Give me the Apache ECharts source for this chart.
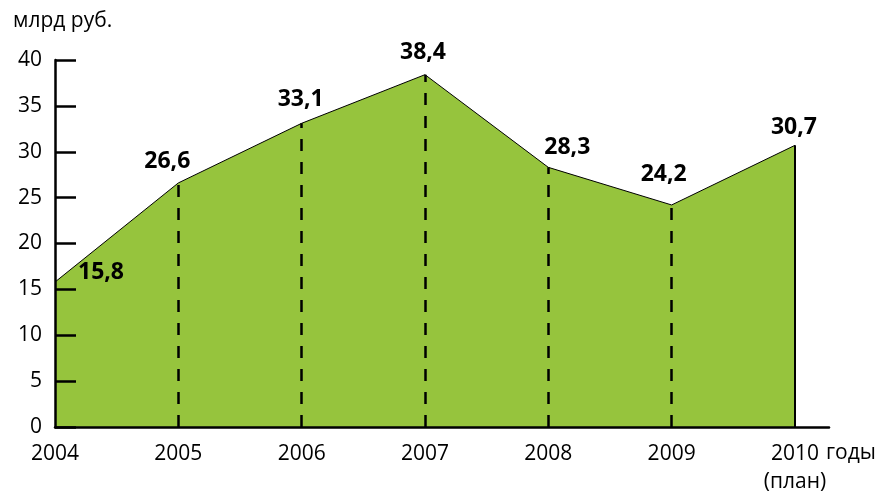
<!DOCTYPE html>
<html><head><meta charset="utf-8">
<script src="https://cdn.jsdelivr.net/npm/echarts@6/dist/echarts.min.js"></script>
<style>html,body{margin:0;padding:0;background:#fff}#c{width:877px;height:493px}</style>
</head><body><div id="c"></div>
<script>
const years = [2004, 2005, 2006, 2007, 2008, 2009, 2010];
const values = [15.8, 26.6, 33.1, 38.4, 28.3, 24.2, 30.7];
const valueLabels = ['15,8', '26,6', '33,1', '38,4', '28,3', '24,2', '30,7'];
const yTicks = [0, 5, 10, 15, 20, 25, 30, 35, 40];
const yAxisTitle = 'млрд руб.';
const xAxisTitle = 'годы';
const planNote = '(план)';

const FONT = '"Open Sans", "Noto Sans", sans-serif';
const labelOffsets = [[46, -10], [-11, -21], [-1, -24], [-2, -22], [19, -20], [-8, -31], [-1, -18]];

const chart = echarts.init(document.getElementById('c'));
const data = years.map((y, i) => ({
  value: [y, values[i]],
  label: {
    show: true,
    position: 'inside',
    offset: labelOffsets[i],
    formatter: valueLabels[i],
    fontWeight: 'bold',
    fontSize: 23,
    fontFamily: FONT,
    color: '#000'
  }
}));
const dashLines = years.slice(1, -1).map((y, i) => [
  { coord: [y, 0] }, { coord: [y, values[i + 1]] }
]);
const lastIdx = years.length - 1;
const solidLine = [
  { coord: [years[lastIdx], 0], lineStyle: { type: 'solid', width: 2 } },
  { coord: [years[lastIdx], values[lastIdx]] }
];

chart.setOption({
  animation: false,
  title: {
    text: yAxisTitle, left: 8, top: 6,
    textStyle: { fontFamily: FONT, fontSize: 21, fontWeight: 'normal', color: '#000' }
  },
  grid: { left: 55, right: 48, top: 60, bottom: 66, outerBoundsMode: 'none', containLabel: false },
  xAxis: {
    type: 'value',
    z: 10,
    min: years[0],
    max: years[0] + 6.276,
    interval: 1,
    name: xAxisTitle,
    nameLocation: 'end',
    nameGap: -3,
    nameMoveOverlap: false,
    nameTextStyle: { fontFamily: FONT, fontSize: 21, color: '#000', align: 'left', verticalAlign: 'top', padding: [16, 0, 0, 0] },
    axisLine: { show: true, lineStyle: { color: '#000', width: 2.5 } },
    axisTick: { show: false },
    splitLine: { show: false },
    axisLabel: {
      showMaxLabel: false,
      margin: 13,
      fontFamily: FONT, fontSize: 21, color: '#000', lineHeight: 28,
      formatter: v => years.includes(v) ? (v === years[lastIdx] ? v + '\n' + planNote : String(v)) : ''
    }
  },
  yAxis: {
    type: 'value',
    z: 10,
    min: yTicks[0], max: yTicks[yTicks.length - 1], interval: 5,
    axisLine: { show: true, lineStyle: { color: '#000', width: 2.5 } },
    axisTick: { show: true, inside: true, length: 21, lineStyle: { color: '#000', width: 2.5 } },
    splitLine: { show: false },
    axisLabel: { margin: 13, fontFamily: FONT, fontSize: 21, color: '#000' }
  },
  series: [{
    type: 'line',
    data: data,
    symbol: 'circle',
    symbolSize: 1,
    showSymbol: true,
    itemStyle: { color: 'rgba(0,0,0,0)' },
    lineStyle: { color: '#000', width: 1 },
    areaStyle: { color: '#96c43d', opacity: 1 },
    z: 1,
    markLine: {
      silent: true,
      symbol: ['none', 'none'],
      label: { show: false },
      lineStyle: { color: '#000', width: 2.5, type: [12, 11] },
      data: dashLines.concat([solidLine])
    }
  }]
});
</script></body></html>
